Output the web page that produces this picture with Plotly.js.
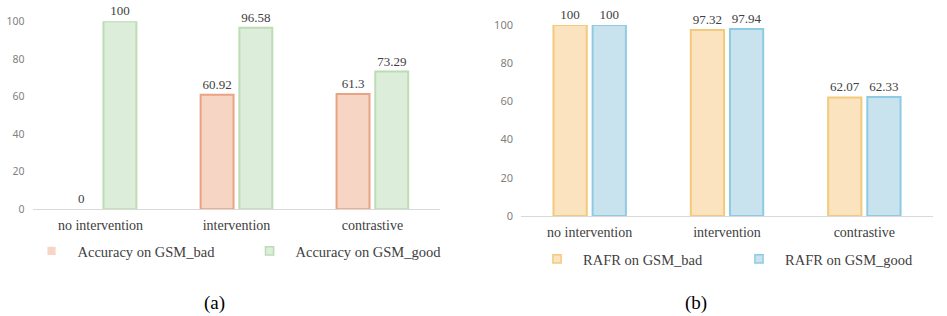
<!DOCTYPE html>
<html>
<head>
<meta charset="utf-8">
<script src="https://cdn.plot.ly/plotly-3.0.1.min.js"></script>
<style>
html,body{margin:0;padding:0;background:#fff;}
#chart{width:947px;height:316px;}
#chart .legendpoints path{transform:translate(14px,0px) scale(0.68);stroke-width:2.2px !important;}
</style>
</head>
<body>
<div id="chart"></div>
<script>
const categories = ["no intervention", "intervention", "contrastive"];
const accBad = [0, 60.92, 61.3];
const accGood = [100, 96.58, 73.29];
const rafrBad = [100, 97.32, 62.07];
const rafrGood = [100, 97.94, 62.33];
const seriesNames = ["Accuracy on GSM_bad", "Accuracy on GSM_good", "RAFR on GSM_bad", "RAFR on GSM_good"];
const yTicks = [0, 20, 40, 60, 80, 100];
const panelLabels = ["(a)", "(b)"];

const serif = "Liberation Serif";
const labelFont = {family: serif, size: 13, color: "#404040"};

function barTrace(y, name, fill, line, xa, ya, leg) {
  return {
    type: "bar", x: categories, y: y, name: name,
    xaxis: xa, yaxis: ya, legend: leg,
    marker: {color: fill, line: {color: line, width: y.map(v => v === 0 ? 0 : 2)}},
    text: y.map(String), textposition: "outside", textfont: labelFont,
    cliponaxis: false, hoverinfo: "none"
  };
}

const data = [
  barTrace(accBad, seriesNames[0], "#f6d5c5", "#e9a383", "x", "y", "legend"),
  barTrace(accGood, seriesNames[1], "#dcedd9", "#bcdcb6", "x", "y", "legend"),
  barTrace(rafrBad, seriesNames[2], "#fbe3c0", "#f3c97a", "x2", "y2", "legend2"),
  barTrace(rafrGood, seriesNames[3], "#c9e3ee", "#8ecbe3", "x2", "y2", "legend2")
];

const xCommon = {
  showline: true, linecolor: "#d9d9d9", linewidth: 1, ticks: "", showgrid: false,
  zeroline: false, ticklabelstandoff: 3,
  tickfont: {family: serif, size: 14, color: "#404040"}, fixedrange: true
};
const yCommon = {
  range: [0, 100], tickvals: yTicks, showgrid: false, zeroline: false, showline: false,
  ticklabelstandoff: 7,
  tickfont: {family: "Noto Sans", size: 10.5, color: "#7f7f7f"}, fixedrange: true
};
const legFont = {family: serif, size: 14.5, color: "#404040"};

const layout = {
  width: 947, height: 316,
  margin: {l: 0, r: 0, t: 0, b: 0},
  paper_bgcolor: "#ffffff", plot_bgcolor: "#ffffff",
  barmode: "group", bargap: 0.43, bargroupgap: 0.15,
  showlegend: true,
  xaxis: Object.assign({}, xCommon, {domain: [33/947, 446/947], anchor: "y"}),
  yaxis: Object.assign({}, yCommon, {domain: [1 - 209.3/316, 1 - 21.3/316], anchor: "x"}),
  xaxis2: Object.assign({}, xCommon, {domain: [527.7/947, 945/947], anchor: "y2"}),
  yaxis2: Object.assign({}, yCommon, {domain: [1 - 216/316, 1 - 25/316], anchor: "x2", tickfont: Object.assign({}, yCommon.tickfont, {size: 11})}),
  legend: {orientation: "h", x: 38/947, xanchor: "left", y: 1 - 251/316, yanchor: "middle",
           font: legFont, entrywidth: 173, entrywidthmode: "pixels", bgcolor: "rgba(0,0,0,0)"},
  legend2: {orientation: "h", x: 550/947, xanchor: "left", y: 1 - 259/316, yanchor: "middle",
            font: legFont, entrywidth: 157, entrywidthmode: "pixels", bgcolor: "rgba(0,0,0,0)"},
  annotations: [
    {text: panelLabels[0], xref: "paper", yref: "paper", x: 217/947, y: 1 - 303/316, showarrow: false,
     xanchor: "center", yanchor: "middle", font: {family: serif, size: 19, color: "#000"}},
    {text: panelLabels[1], xref: "paper", yref: "paper", x: 705/947, y: 1 - 303/316, showarrow: false,
     xanchor: "center", yanchor: "middle", font: {family: serif, size: 19, color: "#000"}}
  ]
};

Plotly.newPlot("chart", data, layout, {displayModeBar: false, staticPlot: true});
</script>
</body>
</html>
